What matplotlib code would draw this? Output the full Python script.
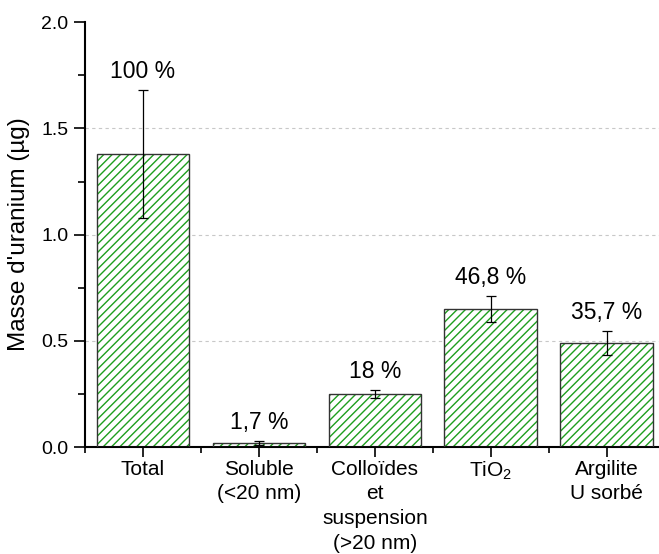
import numpy as np
import matplotlib
matplotlib.use('Agg')
import matplotlib.pyplot as plt
from matplotlib.ticker import MultipleLocator

plt.rcParams['font.family'] = ['Liberation Sans', 'DejaVu Sans']
plt.rcParams['hatch.linewidth'] = 1.0

# data
categories = ['Total', 'Soluble\n(<20 nm)', 'Colloïdes\net\nsuspension\n(>20 nm)',
              r'TiO$_\mathregular{2}$', 'Argilite\nU sorbé']
masses = [1.38, 0.02, 0.25, 0.65, 0.49]
errors = [0.30, 0.01, 0.02, 0.06, 0.055]
percent_labels = ['100 %', '1,7 %', '18 %', '46,8 %', '35,7 %']

HATCH_GREEN = '#1e9e1e'

fig = plt.figure(figsize=(6.59, 5.54), dpi=100)
ax = fig.add_axes([0.129, 0.193, 0.871, 0.767])

x = np.arange(1, len(categories) + 1)

ax.yaxis.grid(True, linestyle=(0, (3, 3)), color='#c8c8c8', linewidth=0.8)
ax.set_axisbelow(True)

# hatch in green, outline in dark grey on top
ax.bar(x, masses, width=0.8, color='white', edgecolor=HATCH_GREEN,
       hatch='////', linewidth=0, zorder=2)
ax.bar(x, masses, width=0.8, fill=False, edgecolor='#333333',
       linewidth=1.0, zorder=3)
ax.errorbar(x, masses, yerr=errors, fmt='none', ecolor='black',
            elinewidth=0.9, capsize=3.5, capthick=0.9, zorder=4)

for xi, m, e, txt in zip(x, masses, errors, percent_labels):
    ax.annotate(txt, (xi, m + e), xytext=(0, 5), textcoords='offset points',
                ha='center', va='bottom', fontsize=16.5)

ax.set_xlim(0.5, 5.45)
ax.set_xticks(x)
ax.set_xticklabels(categories, fontsize=15, linespacing=1.38)
ax.xaxis.set_minor_locator(MultipleLocator(1, offset=0.5))
yticks = [0.0, 0.5, 1.0, 1.5, 2.0]
ax.set_yticks(yticks)
ax.set_yticklabels([f'{v:.1f}' for v in yticks], fontsize=14)
ax.yaxis.set_minor_locator(MultipleLocator(0.25))
ax.set_ylim(0, 2.0)
ax.get_ygridlines()[-1].set_visible(False)
ax.get_ygridlines()[0].set_visible(False)

ax.tick_params(axis='y', which='major', direction='out', length=8, width=1.2, pad=4)
ax.tick_params(axis='y', which='minor', direction='out', length=5, width=1.2)
ax.tick_params(axis='x', which='major', direction='out', length=7, width=1.2, pad=2)
ax.tick_params(axis='x', which='minor', direction='out', length=4, width=1.2)

for side in ['top', 'right']:
    ax.spines[side].set_visible(False)
for side in ['left', 'bottom']:
    ax.spines[side].set_linewidth(1.5)

ax.set_ylabel("Masse d'uranium (µg)", fontsize=17.5, labelpad=8)

fig.savefig('out.png', dpi=100)
